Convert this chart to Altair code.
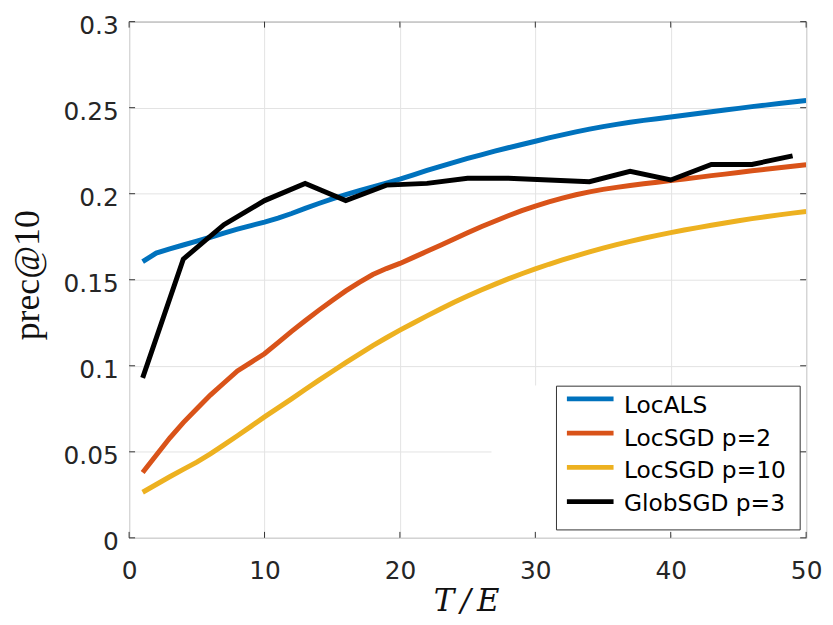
import altair as alt
import pandas as pd

# ---------------- data ----------------
T = list(range(1, 51))
loc_als = [0.1605, 0.1655, 0.1680, 0.1702, 0.1724, 0.1747, 0.1771, 0.1794, 0.1815, 0.1835,
           0.1858, 0.1885, 0.1915, 0.1943, 0.1970, 0.1995, 0.2018, 0.2040, 0.2062, 0.2085,
           0.2110, 0.2135, 0.2159, 0.2182, 0.2205, 0.2226, 0.2247, 0.2267, 0.2286, 0.2305,
           0.2324, 0.2342, 0.2359, 0.2375, 0.2390, 0.2403, 0.2415, 0.2426, 0.2436, 0.2446,
           0.2456, 0.2466, 0.2476, 0.2486, 0.2496, 0.2506, 0.2515, 0.2524, 0.2533, 0.2542]
loc_sgd_p2 = [0.038, 0.048, 0.058, 0.067, 0.075, 0.083, 0.090, 0.097, 0.102, 0.107,
              0.1135, 0.1200, 0.1262, 0.1322, 0.1380, 0.1435, 0.1485, 0.1530, 0.1565, 0.1595,
              0.1630, 0.1665, 0.1700, 0.1737, 0.1773, 0.1808, 0.1840, 0.1872, 0.1902, 0.1928,
              0.1952, 0.1974, 0.1994, 0.2011, 0.2025, 0.2037, 0.2048, 0.2058, 0.2067, 0.2076,
              0.2086, 0.2095, 0.2105, 0.2114, 0.2123, 0.2133, 0.2142, 0.2151, 0.2160, 0.2168]
loc_sgd_p10 = [0.0265, 0.0310, 0.0355, 0.0398, 0.0440, 0.0488, 0.0540, 0.0593, 0.0648, 0.0703,
               0.0755, 0.0808, 0.0862, 0.0915, 0.0967, 0.1018, 0.1068, 0.1117, 0.1163, 0.1207,
               0.1249, 0.1290, 0.1330, 0.1369, 0.1405, 0.1440, 0.1473, 0.1505, 0.1535, 0.1563,
               0.1590, 0.1615, 0.1639, 0.1662, 0.1684, 0.1704, 0.1723, 0.1741, 0.1758, 0.1774,
               0.1789, 0.1803, 0.1817, 0.1830, 0.1843, 0.1855, 0.1866, 0.1877, 0.1887, 0.1897]
T_glob = list(range(1, 50, 3))
glob_sgd_p3 = [0.093, 0.162, 0.182, 0.196, 0.206, 0.196, 0.205, 0.206, 0.209,
               0.209, 0.208, 0.207, 0.213, 0.208, 0.217, 0.217, 0.222]

names = ["LocALS", "LocSGD p=2", "LocSGD p=10", "GlobSGD p=3"]
colors = ["#0072BD", "#D95319", "#EDB120", "#000000"]
x_ticks = [0, 10, 20, 30, 40, 50]
y_ticks = [0, 0.05, 0.1, 0.15, 0.2, 0.25, 0.3]
x_title = "T\u2009/\u2009E"
y_title = "prec@10"

rows = []
for name, xs, ys in zip(names, [T, T, T, T_glob],
                        [loc_als, loc_sgd_p2, loc_sgd_p10, glob_sgd_p3]):
    for xv, yv in zip(xs, ys):
        rows.append({"series": name, "t": xv, "prec": yv})
df = pd.DataFrame(rows)

# ---------------- layout ----------------
W, H = 682, 520
TXT = "#262626"
LABEL_FONT = "DejaVu Sans"
xscale = alt.Scale(domain=[0, 50], nice=False, zero=False)
yscale = alt.Scale(domain=[0, 0.3], nice=False)
color = alt.Color("series:N", scale=alt.Scale(domain=names, range=colors), legend=None)

x_axis = alt.Axis(values=x_ticks, grid=True, gridColor="#e3e3e3", gridWidth=1,
                  domain=False, ticks=False, labelFont=LABEL_FONT,
                  labelFontSize=25, labelColor=TXT, labelPadding=21,
                  labelFlush=False, labelOverlap=False, title=None)
y_axis = alt.Axis(values=y_ticks, format="~g", grid=True, gridColor="#e3e3e3",
                  gridWidth=1, domain=False, ticks=False, labelFont=LABEL_FONT,
                  labelFontSize=25, labelColor=TXT, labelPadding=11,
                  labelOffset=4, labelFlush=False, labelOverlap=False, title=None)

lines = alt.Chart(df).mark_line(strokeWidth=5, clip=True).encode(
    x=alt.X("t:Q", scale=xscale, axis=x_axis),
    y=alt.Y("prec:Q", scale=yscale, axis=y_axis),
    color=color,
    order=alt.Order("t:Q"),
)

one = pd.DataFrame({"a": [0]})

# white area behind the legend (hides part of the grid, as in the reference)
occluder = alt.Chart(one).mark_rect(color="white").encode(
    x=alt.value(365), x2=alt.value(676), y=alt.value(366.5), y2=alt.value(517))

legend_box = alt.Chart(one).mark_rect(fill="white", stroke="#333333", strokeWidth=1).encode(
    x=alt.value(430.5), x2=alt.value(676), y=alt.value(367.2), y2=alt.value(512))

legend_layers = []
for i, (name, col) in enumerate(zip(names, colors)):
    sy = 380 + 34.5 * i
    ty = 394 + 33 * i
    legend_layers.append(
        alt.Chart(one).mark_rule(color=col, strokeWidth=5).encode(
            x=alt.value(441), x2=alt.value(488), y=alt.value(sy)))
    legend_layers.append(
        alt.Chart(pd.DataFrame({"series": [name]})).mark_text(
            font=LABEL_FONT, fontSize=23.5, color="#000000", align="left",
            baseline="alphabetic").encode(
            text="series:N", x=alt.value(498.5), y=alt.value(ty)))

# inward ticks (MATLAB style)
xt = pd.DataFrame({"t": x_ticks})
yt = pd.DataFrame({"prec": y_ticks})
tick_color = "#333333"
xt_bottom = alt.Chart(xt).mark_rule(color=tick_color, strokeWidth=1).encode(
    x=alt.X("t:Q", scale=xscale, axis=x_axis), y=alt.value(H), y2=alt.value(H - 6))
xt_top = alt.Chart(xt).mark_rule(color=tick_color, strokeWidth=1).encode(
    x=alt.X("t:Q", scale=xscale, axis=x_axis), y=alt.value(0), y2=alt.value(6))
yt_left = alt.Chart(yt).mark_rule(color=tick_color, strokeWidth=1).encode(
    y=alt.Y("prec:Q", scale=yscale, axis=y_axis), x=alt.value(0), x2=alt.value(6))
yt_right = alt.Chart(yt).mark_rule(color=tick_color, strokeWidth=1).encode(
    y=alt.Y("prec:Q", scale=yscale, axis=y_axis), x=alt.value(W), x2=alt.value(W - 6))

# axis titles
ytitle = alt.Chart(pd.DataFrame({"lbl": [y_title]})).mark_text(
    font="Liberation Serif", fontSize=36, color="#111111", angle=270,
    align="center", baseline="alphabetic").encode(
    text="lbl:N", x=alt.value(-91), y=alt.value(255.5))
xtitle = alt.Chart(pd.DataFrame({"lbl": [x_title]})).mark_text(
    font="DejaVu Serif", fontStyle="italic", fontSize=31, color="#111111",
    align="center", baseline="alphabetic").encode(
    text="lbl:N", x=alt.value(340), y=alt.value(594))

chart = alt.layer(
    lines, occluder, legend_box, *legend_layers,
    xt_bottom, xt_top, yt_left, yt_right, ytitle, xtitle
).properties(
    width=W, height=H,
    autosize=alt.AutoSizeParams(type="none"),
    padding={"left": 122, "top": 11.5, "right": 19, "bottom": 79},
    background="white",
).configure_view(stroke="#6b6b6b", strokeWidth=1)

chart.save("out.html", embed_options={"renderer": "svg", "actions": False})
